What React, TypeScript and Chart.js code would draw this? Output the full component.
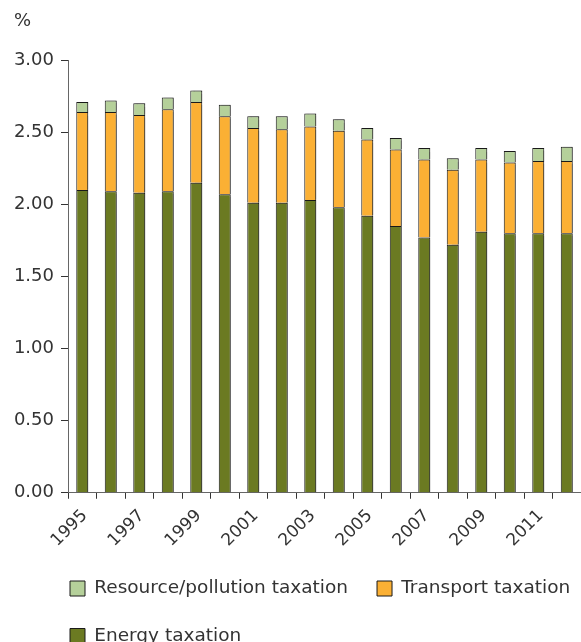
import React, { useEffect, useRef } from 'react';
import { Chart, registerables } from 'chart.js';

Chart.register(...registerables);

const years = ['1995', '1996', '1997', '1998', '1999', '2000', '2001', '2002', '2003', '2004', '2005', '2006', '2007', '2008', '2009', '2010', '2011', '2012'];
const energy = [2.10, 2.09, 2.08, 2.09, 2.15, 2.07, 2.01, 2.01, 2.03, 1.98, 1.92, 1.85, 1.77, 1.72, 1.81, 1.80, 1.80, 1.80];
const transport = [0.54, 0.55, 0.54, 0.57, 0.56, 0.54, 0.52, 0.51, 0.51, 0.53, 0.53, 0.53, 0.54, 0.52, 0.50, 0.49, 0.50, 0.50];
const resource = [0.07, 0.08, 0.08, 0.08, 0.08, 0.08, 0.08, 0.09, 0.09, 0.08, 0.08, 0.08, 0.08, 0.08, 0.08, 0.08, 0.09, 0.10];
const yTicks = ['0.00', '0.50', '1.00', '1.50', '2.00', '2.50', '3.00'];

const FONT = '"DejaVu Sans", Verdana, sans-serif';
const TEXT = '#333333';

export default function App() {
  const ref = useRef<HTMLCanvasElement | null>(null);

  useEffect(() => {
    if (!ref.current) return;
    const shiftBoxes = {
      id: 'shiftBoxes',
      beforeDraw(chart: any) {
        const lg = chart.legend;
        if (lg) {
          lg.left = 41;
          lg.right = 650;
        }
        const tb = chart.titleBlock;
        if (tb) {
          tb.left = 14;
        }
      },
    };
    const barShadow = {
      id: 'barShadow',
      beforeDatasetsDraw(chart: any) {
        const c = chart.ctx;
        c.save();
        c.shadowColor = 'rgba(0,0,0,0.28)';
        c.shadowOffsetX = 2;
        c.shadowOffsetY = 0;
        c.shadowBlur = 1;
      },
      afterDatasetsDraw(chart: any) {
        chart.ctx.restore();
      },
    };

    const common = {
      borderColor: '#1a1a1a',
      borderWidth: 1,
      barPercentage: 0.42,
      categoryPercentage: 1,
    };

    const chart = new Chart(ref.current, {
      type: 'bar',
      data: {
        labels: years,
        datasets: [
          { label: 'Energy taxation', data: energy, backgroundColor: '#6B7A22', ...common },
          { label: 'Transport taxation', data: transport, backgroundColor: '#FBB034', ...common },
          { label: 'Resource/pollution taxation', data: resource, backgroundColor: '#B5D09A', ...common },
        ],
      },
      options: {
        animation: false,
        responsive: true,
        maintainAspectRatio: false,
        layout: { padding: { left: 0, right: 0, top: 0, bottom: -13.25 } },
        plugins: {
          tooltip: { enabled: false },
          title: {
            display: true,
            text: '%',
            align: 'start',
            color: TEXT,
            font: { family: FONT, size: 18, weight: 'normal' },
            padding: { top: 11, bottom: 27.5 },
          },
          legend: {
            position: 'bottom',
            align: 'start',
            reverse: true,
            labels: {
              color: TEXT,
              font: { family: FONT, size: 18.5 },
              boxWidth: 15,
              boxHeight: 15,
              padding: 29,
            },
          },
        },
        scales: {
          x: {
            stacked: true,
            afterFit: (scale: any) => {
              scale.height = 57.5;
              scale.paddingLeft = 0;
              scale.paddingRight = 0;
            },
            grid: {
              offset: true,
              drawOnChartArea: false,
              drawTicks: true,
              tickLength: 6,
              color: '#333333',
            },
            border: { color: '#666666', width: 1 },
            ticks: {
              autoSkip: false,
              maxRotation: 45,
              minRotation: 45,
              padding: 7,
              labelOffset: 2.5,
              color: TEXT,
              font: { family: FONT, size: 17 },
              callback: (_v: any, i: number) => (i % 2 === 0 ? years[i] : ''),
            },
          },
          y: {
            stacked: true,
            min: 0,
            max: 3,
            afterFit: (scale: any) => {
              scale.width = 68;
            },
            grid: {
              drawOnChartArea: false,
              drawTicks: true,
              tickLength: 7,
              color: '#333333',
            },
            border: { color: '#666666', width: 1 },
            ticks: {
              stepSize: 0.5,
              padding: 7,
              color: TEXT,
              font: { family: FONT, size: 18 },
              callback: (_v: any, i: number) => yTicks[i],
            },
          },
        },
      },
      plugins: [shiftBoxes, barShadow],
    });
    return () => chart.destroy();
  }, []);

  return (
    <div style={{ position: 'absolute', left: 0, top: 0, width: 581, height: 642 }}>
      <canvas ref={ref} />
    </div>
  );
}
